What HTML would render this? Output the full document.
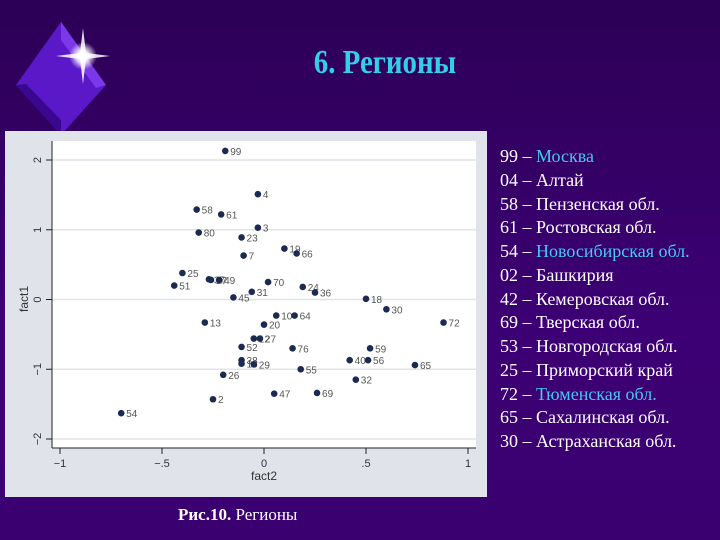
<!DOCTYPE html>
<html><head><meta charset="utf-8"><style>
html,body{margin:0;padding:0}
body{width:720px;height:540px;overflow:hidden;position:relative;background:linear-gradient(#2c0056,#3c0074 60%,#3a0070);font-family:"Liberation Serif",serif}
#title{position:absolute;left:0;width:770px;top:44px;text-align:center;font:bold 34px "Liberation Serif",serif;color:#2fd0e8;transform:scaleX(0.85)}
#legend{position:absolute;left:500px;top:145px;color:#fff;font-size:18px;line-height:23.75px}
.c{color:#46c8f0}
#caption{position:absolute;left:178px;top:505px;color:#fff;font-size:17px}
</style></head><body>
<svg width="120" height="140" style="position:absolute;left:0;top:0">
<defs><radialGradient id="st"><stop offset="0" stop-color="#fff"/><stop offset="0.4" stop-color="#fff" stop-opacity="0.9"/><stop offset="1" stop-color="#fff" stop-opacity="0"/></radialGradient></defs>
<polygon points="61,22 106,85 61,135 16,85" fill="#5a18c8"/>
<polygon points="61,22 106,85 96,88 61,40" fill="#7a38e8"/>
<polygon points="16,85 61,135 61,120 26,84" fill="#3a0890"/>
<circle cx="83" cy="56" r="14" fill="url(#st)"/>
<polygon points="83,28 86,53 110,56 86,59 83,84 80,59 56,56 80,53" fill="#fff" opacity="0.85"/>
</svg>
<div id="title">6. Регионы</div>
<svg id="chart" width="490" height="500" style="position:absolute;left:0;top:0"></svg>
<div id="legend">
<div>99 – <span class="c">Москва</span></div><div>04 – Алтай</div><div>58 – Пензенская обл.</div><div>61 – Ростовская обл.</div><div>54 – <span class="c">Новосибирская обл.</span></div><div>02 – Башкирия</div><div>42 – Кемеровская обл.</div><div>69 – Тверская обл.</div><div>53 – Новгородская обл.</div><div>25 – Приморский край</div><div>72 – <span class="c">Тюменская обл.</span></div><div>65 – Сахалинская обл.</div><div>30 – Астраханская обл.</div>
</div>
<div id="caption"><b>Рис.10.</b> Регионы</div>
<script>
const labels=["99","4","58","61","3","80","23","19","66","7","25","37","17","49","51","70","24","36","31","45","18","30","10","64","13","72","20","12","27","52","76","59","40","56","38","16","29","65","55","26","32","47","69","2","54"];
const xs=[-0.19,-0.03,-0.33,-0.21,-0.03,-0.32,-0.11,0.10,0.16,-0.10,-0.40,-0.27,-0.26,-0.22,-0.44,0.02,0.19,0.25,-0.06,-0.15,0.50,0.60,0.06,0.15,-0.29,0.88,0.00,-0.05,-0.02,-0.11,0.14,0.52,0.42,0.51,-0.11,-0.11,-0.05,0.74,0.18,-0.20,0.45,0.05,0.26,-0.25,-0.70];
const ys=[2.13,1.51,1.29,1.22,1.03,0.96,0.89,0.73,0.66,0.63,0.38,0.29,0.28,0.28,0.20,0.25,0.18,0.10,0.11,0.03,0.01,-0.14,-0.23,-0.23,-0.33,-0.33,-0.36,-0.56,-0.56,-0.68,-0.70,-0.70,-0.87,-0.87,-0.87,-0.92,-0.93,-0.94,-1.00,-1.08,-1.15,-1.35,-1.34,-1.43,-1.63];
const xTicks=[-1,-0.5,0,0.5,1];
const xTickLabels=["−1","−.5","0",".5","1"];
const yTicks=[-2,-1,0,1,2];
const yTickLabels=["−2","−1","0","1","2"];
const NS="http://www.w3.org/2000/svg";
const svg=document.getElementById('chart');
const X=v=>264+v*204, Y=v=>299.5-v*69.75;
function mk(t,a,p){const e=document.createElementNS(NS,t);for(const k in a)e.setAttribute(k,a[k]);(p||svg).appendChild(e);return e;}
let e;
e=mk('rect',{x:5,y:131,width:482,height:366,fill:'#e0e4ea'});


e=mk('rect',{x:52,y:141,width:424,height:307,fill:'#fff'});


yTicks.forEach((v,i)=>{
 e=mk('line',{x1:52,x2:476,y1:Y(v),y2:Y(v),stroke:'#e0e4ea','stroke-width':1.5});
 
 
 mk('line',{x1:46,x2:52,y1:Y(v),y2:Y(v),stroke:'#222'});
 e=mk('text',{x:0,y:0,'font-size':11,fill:'#333','font-family':'Liberation Sans, sans-serif','text-anchor':'middle',transform:`translate(41,${Y(v)}) rotate(-90)`});
 e.textContent=yTickLabels[i];
 
 
});
xTicks.forEach((v,i)=>{
 mk('line',{x1:X(v),x2:X(v),y1:448,y2:454,stroke:'#222'});
 e=mk('text',{x:X(v),y:467,'font-size':11,fill:'#333','font-family':'Liberation Sans, sans-serif','text-anchor':'middle'});
 e.textContent=xTickLabels[i];
 
 
});
mk('line',{x1:52,x2:52,y1:141,y2:448,stroke:'#222'});
mk('line',{x1:52,x2:476,y1:448,y2:448,stroke:'#222'});
e=mk('text',{x:264,y:480,'font-size':12,fill:'#333','font-family':'Liberation Sans, sans-serif','text-anchor':'middle'});
e.textContent='fact2';


e=mk('text',{x:0,y:0,'font-size':12,fill:'#333','font-family':'Liberation Sans, sans-serif','text-anchor':'middle',transform:'translate(28,299) rotate(-90)'});
e.textContent='fact1';


labels.forEach((l,i)=>{
 e=mk('circle',{cx:X(xs[i]),cy:Y(ys[i]),r:3.3,fill:'#1a2a50'});
 
 
 e=mk('text',{x:X(xs[i])+5,y:Y(ys[i])+4,'font-size':10,fill:'#555','font-family':'Liberation Sans, sans-serif'});
 e.textContent=l;
 
 
});
</script>
</body></html>
